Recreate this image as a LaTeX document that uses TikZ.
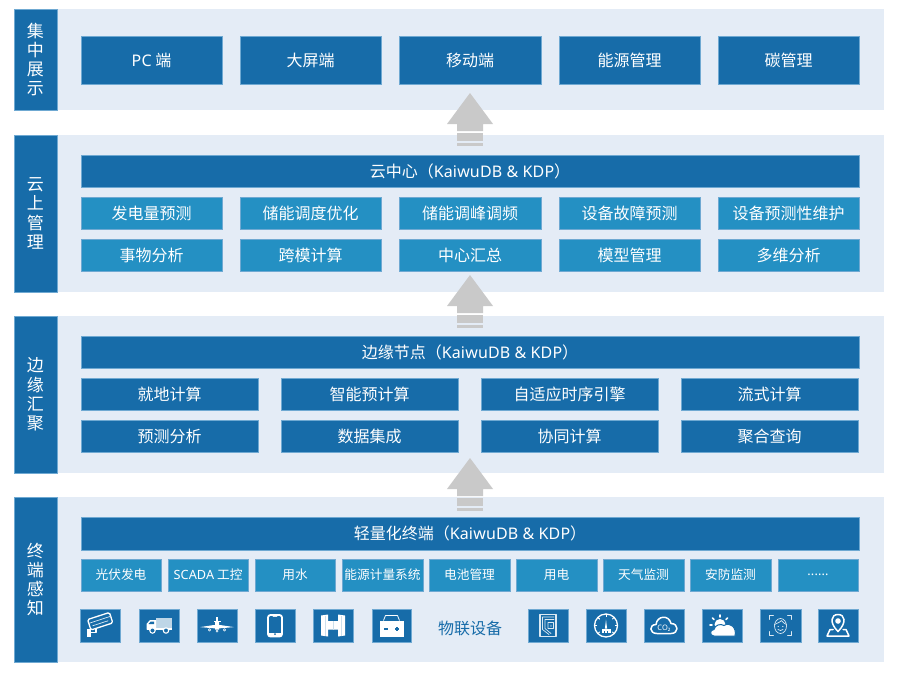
\documentclass[tikz,border=0pt]{standalone}
\usepackage{fontspec}
\setmainfont{Noto Sans CJK SC}
\newfontfamily\lat[LetterSpace=1]{Noto Sans}
\newcommand\la[1]{{\lat #1}}
\definecolor{darkb}{HTML}{176CA9}
\definecolor{lightb}{HTML}{2490C3}
\definecolor{panelb}{HTML}{E4ECF6}
\definecolor{edgeb}{HTML}{6FA9D2}
\definecolor{graya}{HTML}{C9C9C9}
\tikzset{
  panel/.style={fill=panelb,draw=none,inner sep=0pt,outer sep=0pt},
  side/.style={fill=darkb,draw=edgeb,line width=.4pt,inner sep=0pt,outer sep=0pt,text=white,font=\fontsize{17}{19.3}\selectfont,align=center},
  dark/.style={fill=darkb,draw=edgeb,line width=.4pt,inner sep=0pt,outer sep=0pt,text=white,font=\fontsize{16}{18}\selectfont},
  lite/.style={fill=lightb,draw=edgeb,line width=.4pt,inner sep=0pt,outer sep=0pt,text=white,font=\fontsize{16}{18}\selectfont},
  small/.style={lite,font=\fontsize{12.7}{14}\selectfont},
  iconbox/.style={fill=darkb,draw=edgeb,line width=.4pt,inner sep=0pt,outer sep=0pt},
  ink/.style={draw=white,line width=1.3pt,line join=round,line cap=round},
  fine/.style={draw=white!85!darkb,line width=.7pt,line cap=round,line join=round}
}
\newcommand\bxs[7]{\node[#2,minimum width={(#5-#3)*1pt},minimum height={(#6-#4)*1pt}] (#1) at ({(#3+#5)/2},{(#4+#6)/2}) {#7};}
\newcommand\bx[7]{\bxs{#1}{#2}{#3}{#4}{#5}{#6}{\raisebox{-1pt}{#7}}}
\newcommand\upa[1]{%
  \fill[graya] (470,#1) -- (493,{#1+31}) -- (483,{#1+31}) -- (483,{#1+38}) -- (457,{#1+38}) -- (457,{#1+31}) -- (447,{#1+31}) -- cycle;
  \fill[graya] (457,{#1+40}) rectangle (483,{#1+48});
  \fill[graya] (457,{#1+50}) rectangle (483,{#1+53});
}
\begin{document}
\begin{tikzpicture}[x=1pt,y=-1pt]
\useasboundingbox (0,0) rectangle (897,675);
\fill[white] (0,0) rectangle (897,675);
% panels
\bxs{p1}{panel}{14}{9}{884}{110}{}
\bxs{p2}{panel}{14}{135}{884}{292}{}
\bxs{p3}{panel}{14}{316}{884}{473}{}
\bxs{p4}{panel}{14}{497}{884}{662}{}
\bxs{s1}{side}{14}{9}{57}{110}{集\\中\\展\\示}
\bxs{s2}{side}{14}{135}{57}{292}{云\\上\\管\\理}
\bxs{s3}{side}{14}{316}{57}{473}{边\\缘\\汇\\聚}
\bxs{s4}{side}{14}{497}{57}{662}{终\\端\\感\\知}
% arrows
\upa{93}
\upa{275}
\upa{458}
% layer 1
\bx{a1}{dark}{81}{36}{222}{84}{\la{PC} 端}
\bx{a2}{dark}{240}{36}{381}{84}{大屏端}
\bx{a3}{dark}{399}{36}{541}{84}{移动端}
\bx{a4}{dark}{559}{36}{700}{84}{能源管理}
\bx{a5}{dark}{718}{36}{859}{84}{碳管理}
% layer 2
\bx{b0}{dark}{81}{155}{859}{187}{云中心（\la{KaiwuDB \& KDP}）}
\bx{b1}{lite}{81}{197}{222}{229}{发电量预测}
\bx{b2}{lite}{240}{197}{381}{229}{储能调度优化}
\bx{b3}{lite}{399}{197}{541}{229}{储能调峰调频}
\bx{b4}{lite}{559}{197}{700}{229}{设备故障预测}
\bx{b5}{lite}{718}{197}{859}{229}{设备预测性维护}
\bx{b6}{lite}{81}{239}{222}{271}{事物分析}
\bx{b7}{lite}{240}{239}{381}{271}{跨模计算}
\bx{b8}{lite}{399}{239}{541}{271}{中心汇总}
\bx{b9}{lite}{559}{239}{700}{271}{模型管理}
\bx{b10}{lite}{718}{239}{859}{271}{多维分析}
% layer 3
\bx{c0}{dark}{81}{336}{859}{368}{边缘节点（\la{KaiwuDB \& KDP}）}
\bx{c1}{dark}{81}{378}{258}{410}{就地计算}
\bx{c2}{dark}{281}{378}{458}{410}{智能预计算}
\bx{c3}{dark}{481}{378}{658}{410}{自适应时序引擎}
\bx{c4}{dark}{681}{378}{858}{410}{流式计算}
\bx{c5}{dark}{81}{420}{258}{452}{预测分析}
\bx{c6}{dark}{281}{420}{458}{452}{数据集成}
\bx{c7}{dark}{481}{420}{658}{452}{协同计算}
\bx{c8}{dark}{681}{420}{858}{452}{聚合查询}
% layer 4
\bx{d0}{dark}{81}{517}{859}{550}{轻量化终端（\la{KaiwuDB \& KDP}）}
\bx{d1}{small}{81}{559}{161}{591}{光伏发电}
\bx{d2}{small}{168}{559}{248}{591}{\la{SCADA} 工控}
\bx{d3}{small}{255}{559}{335}{591}{用水}
\bx{d4}{small}{342}{559}{423}{591}{能源计量系统}
\bx{d5}{small}{429}{559}{510}{591}{电池管理}
\bx{d6}{small}{516}{559}{597}{591}{用电}
\bx{d7}{small}{603}{559}{684}{591}{天气监测}
\bx{d8}{small}{690}{559}{771}{591}{安防监测}
\bx{d9}{small}{778}{559}{858}{591}{\la{......}}
\node[text=darkb,font=\fontsize{16}{18}\selectfont,inner sep=0pt] (iot) at (470,628) {物联设备};
% icon boxes
\bxs{i1}{iconbox}{80}{609}{120}{642}{}
\bxs{i2}{iconbox}{139}{609}{179}{642}{}
\bxs{i3}{iconbox}{197}{609}{237}{642}{}
\bxs{i4}{iconbox}{255}{609}{295}{642}{}
\bxs{i5}{iconbox}{313}{609}{353}{642}{}
\bxs{i6}{iconbox}{372}{609}{411}{642}{}
\bxs{i7}{iconbox}{528}{609}{568}{642}{}
\bxs{i8}{iconbox}{586}{609}{626}{642}{}
\bxs{i9}{iconbox}{644}{609}{684}{642}{}
\bxs{i10}{iconbox}{702}{609}{742}{642}{}
\bxs{i11}{iconbox}{760}{609}{801}{642}{}
\bxs{i12}{iconbox}{818}{609}{858}{642}{}
% camera
\begin{scope}[shift={(i1.center)}]
  \begin{scope}[rotate=18,shift={(1,-3.5)}]
    \draw[ink,fill=darkb,rounded corners=1.5pt] (-11,-6) rectangle (12,5);
    \draw[fine] (-11,-2) -- (12,-2);
    \draw[fine] (-8,1.5) -- (8,1.5);
  \end{scope}
  \draw[ink,line width=1.8pt] (-4,3.5) -- (-4,7) -- (-10,7);
  \fill[white] (-13,3.5) rectangle (-9.5,11);
\end{scope}
% truck
\begin{scope}[shift={(i2.center)}]
  \fill[white!72!darkb] (-3,-8) rectangle (13,3);
  \fill[white] (-12.5,4) -- (-12.5,-1.5) -- (-9,-5.5) -- (-3,-5.5) -- (-3,4) -- cycle;
  \fill[darkb] (-10.5,-1.5) -- (-8.3,-4) -- (-5,-4) -- (-5,-1.5) -- cycle;
  \fill[white] (-12.5,2) rectangle (13,4.5);
  \draw[white,fill=darkb,line width=1.1pt] (-6.5,5) circle (2.7) (7,5) circle (2.7);
\end{scope}
% plane
\begin{scope}[shift={(i3.center)}]
  \fill[white] (-17,1.6) -- (-3,-.5) -- (3,-.5) -- (17,1.6) -- (3,2.8) -- (-3,2.8) -- cycle;
  \fill[white] (-2,4) -- (-2,-3) -- (0,-6) -- (2,-3) -- (2,4) -- cycle;
  \fill[white] (-.7,-9) rectangle (.7,-3);
  \fill[white] (-3.5,-5) rectangle (3.5,-4);
  \draw[fine] (-7.5,4.3) circle (1.2) (7.5,4.3) circle (1.2) (0,5.5) circle (1);
\end{scope}
% phone
\begin{scope}[shift={(i4.center)}]
  \draw[white,line width=1.8pt,rounded corners=2.5pt] (-7,-10.5) rectangle (7,11);
  \fill[white] (-7,7) rectangle (7,10);
  \fill[darkb] (0,8.6) circle (1);
  \draw[fine] (-2,-8.8) -- (2,-8.8);
\end{scope}
% gate
\begin{scope}[shift={(i5.center)}]
  \fill[white] (-12,-10) -- (-5,-11) -- (-5,-4.5) -- (5,-4.5) -- (5,-11) -- (12,-10) -- (12,10) -- (5,11) -- (5,4) -- (-5,4) -- (-5,11) -- (-12,10) -- cycle;
  \draw[white!78!darkb,line width=.5pt] (-8,-10) -- (-8,10) (8,-10) -- (8,10) (0,-4.5) -- (0,4);
\end{scope}
% battery
\begin{scope}[shift={(i6.center)}]
  \fill[white] (-12,-5) rectangle (12,11);
  \draw[white,line width=.8pt,line join=round] (-8,-5) -- (-6,-10) -- (6,-10) -- (8,-5);
  \draw[darkb,line width=1.2pt] (-7.5,3.5) -- (-3.5,3.5) (3.5,3.5) -- (7.5,3.5) (5.5,1.5) -- (5.5,5.5);
\end{scope}
% document
\begin{scope}[shift={(i7.center)}]
  \draw[fine,line width=1.1pt] (8,-11) -- (-8,-11) -- (-8,11) -- (8,11) -- (8,-11);
  \draw[fine] (6,-8.5) -- (-5.5,-8.5) -- (-5.5,4) -- (1,9)
     (6,-6) -- (-3,-6) -- (-3,3) -- (3,8)
     (5.5,-3) -- (0,-3) -- (0,3) -- (5.5,3) -- (5.5,-3) (3,-.5) -- (3,1);
\end{scope}
% gauge
\begin{scope}[shift={(i8.center)}]
  \draw[ink] (0,0) circle (11.5);
  \foreach \a in {0,45,135,180,225,-45,-135,-90} \draw[white,fill=white,line width=1pt] (\a:9) -- (\a:11.5);
  \fill[white] (-1.1,3) -- (0,-6) -- (1.1,3) -- cycle;
  \fill[white] (-4.5,3.5) rectangle (4.5,7);
  \draw[darkb,line width=.6pt] (-1.5,5.5) -- (-1.5,7) (1.5,5.5) -- (1.5,7);
\end{scope}
% CO2
\begin{scope}[shift={(i9.center)}]
  \draw[ink,line width=1.5pt] (-7,8) .. controls (-15,8) and (-15,-1) .. (-8,-1)
     .. controls (-7,-10) and (5,-11) .. (7,-2) .. controls (15,-2) and (15,8) .. (7,8) -- cycle;
  \node[text=white,inner sep=0pt,font=\lat\bfseries\fontsize{7.5}{8}\selectfont] (co) at (0,3) {CO₂};
\end{scope}
% sun and cloud
\begin{scope}[shift={(i10.center)}]
  \fill[white] (-2,-1) circle (5.5);
  \draw[white,line width=1.6pt,line cap=round] (-12,-.5) -- (-10,-.5) (-9.5,-7.5) -- (-8,-6) (-2,-10.5) -- (-2,-8.5) (5.5,-7.5) -- (4,-6);
  \draw[darkb,line width=1pt,fill=white] (-8,10.5) .. controls (-12.5,10.5) and (-12.5,4) .. (-8,4) .. controls (-7,-1) and (-1,-2) .. (2,0) .. controls (8,-4) and (15,2) .. (13,10.5) -- cycle;
\end{scope}
% face
\begin{scope}[shift={(i11.center)}]
  \draw[fine] (-11,-6) -- (-11,-10) -- (-7,-10) (7,-10) -- (11,-10) -- (11,-6) (-11,6) -- (-11,10) -- (-7,10) (7,10) -- (11,10) -- (11,6);
  \draw[fine] (0,0.5) ellipse (6 and 7.5);
  \draw[fine] (-6,-1) .. controls (-3,-2) and (0,-4) .. (1,-5) .. controls (2,-3) and (4,-2) .. (6,-1);
  \draw[fine] (-2.5,4) .. controls (-1,5.3) and (1,5.3) .. (2.5,4);
  \fill[white!85!darkb] (-2.3,1) circle (.7) (2.3,1) circle (.7);
\end{scope}
% map pin
\begin{scope}[shift={(i12.center)}]
  \draw[ink,fill=darkb,line width=1.5pt] (-5,4) -- (-8,4) -- (-11,10.5) -- (11,10.5) -- (8,4) -- (5,4);
  \draw[ink,fill=darkb,line width=1.5pt] (0,6) .. controls (-9,-3) and (-7,-11) .. (0,-11) .. controls (7,-11) and (9,-3) .. (0,6) -- cycle;
  \fill[white] (0,-4.5) circle (2.8);
\end{scope}
\end{tikzpicture}
\end{document}
